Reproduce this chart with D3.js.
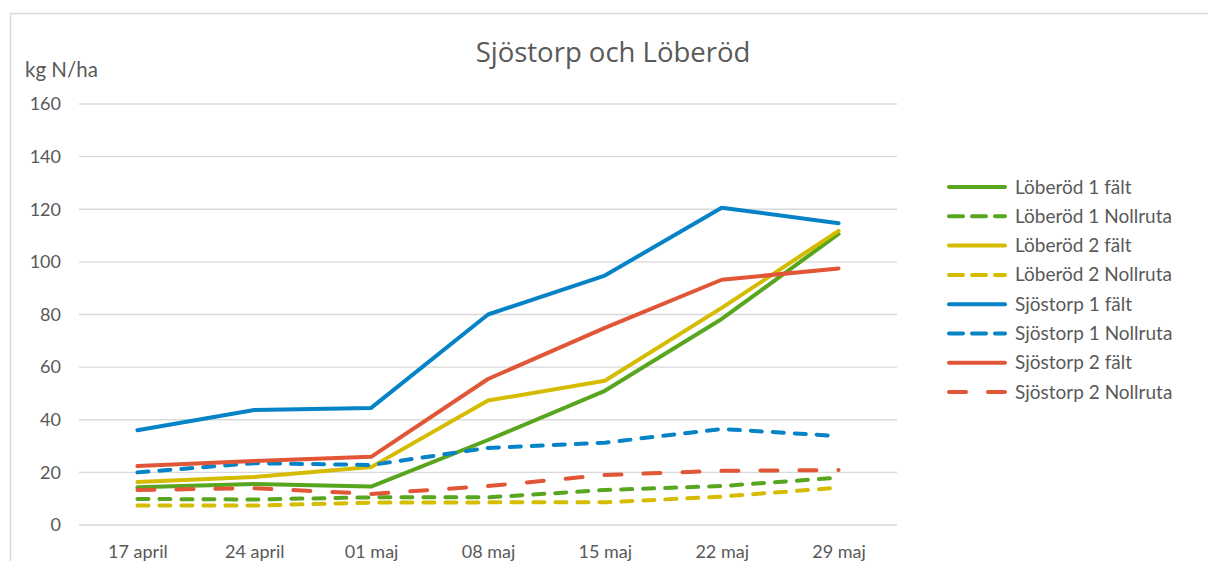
<!DOCTYPE html>
<html>
<head>
<meta charset="utf-8">
<script src="https://cdn.jsdelivr.net/npm/d3@7"></script>
<style>
  body { margin: 0; background: #fff; }
  svg text { fill: #595959; }
</style>
</head>
<body>
<svg id="chart" width="1208" height="561"></svg>
<script>
// dates on the x axis
const categories = ["17 april", "24 april", "01 maj", "08 maj", "15 maj", "22 maj", "29 maj"];
const yTicks = [0, 20, 40, 60, 80, 100, 120, 140, 160];

const seriesNames = [
  "Löberöd 1 fält", "Löberöd 1 Nollruta", "Löberöd 2 fält", "Löberöd 2 Nollruta",
  "Sjöstorp 1 fält", "Sjöstorp 1 Nollruta", "Sjöstorp 2 fält", "Sjöstorp 2 Nollruta"
];
const loberod1Falt = [14.3, 15.6, 14.6, 32.3, 51, 78.3, 110.6];
const loberod1Noll = [9.9, 9.7, 10.5, 10.5, 13.3, 14.8, 18];
const loberod2Falt = [16.3, 18.2, 22, 47.3, 54.8, 82.5, 111.8];
const loberod2Noll = [7.4, 7.4, 8.5, 8.6, 8.6, 10.8, 14.2];
const sjostorp1Falt = [36, 43.7, 44.5, 80, 94.8, 120.6, 114.7];
const sjostorp1Noll = [20, 23.5, 22.8, 29.3, 31.3, 36.5, 33.8];
const sjostorp2Falt = [22.4, 24.3, 25.9, 55.5, 74.9, 93.2, 97.5];
const sjostorp2Noll = [13.3, 14, 11.8, 14.8, 19, 20.6, 20.9];

const seriesValues = [loberod1Falt, loberod1Noll, loberod2Falt, loberod2Noll,
  sjostorp1Falt, sjostorp1Noll, sjostorp2Falt, sjostorp2Noll];

const green = "#58a51f", yellow = "#d5bc00", blue = "#0583c6", red = "#e05636";
const colors = [green, green, yellow, yellow, blue, blue, red, red];
const dashes = [null, "11,11", null, "11,11", null, "11,11", null, "17,22"];

const svg = d3.select("#chart");
const font = "Lato, 'Open Sans', sans-serif";

// chart frame (right and bottom fall outside the picture)
svg.append("path")
  .attr("d", "M10.5,561 L10.5,13.5 L1208,13.5")
  .attr("fill", "none")
  .attr("stroke", "#d9d9d9")
  .attr("stroke-width", 1.5);

const plot = { left: 79, right: 897, top: 104, bottom: 525 };

const x = d3.scalePoint().domain(categories).range([plot.left, plot.right]).padding(0.5);
const y = d3.scaleLinear().domain([0, 160]).range([plot.bottom, plot.top]);

// gridlines
svg.append("g")
  .selectAll("line")
  .data(yTicks)
  .join("line")
  .attr("x1", plot.left)
  .attr("x2", plot.right)
  .attr("y1", (d) => y(d))
  .attr("y2", (d) => y(d))
  .attr("stroke", "#d9d9d9")
  .attr("stroke-width", 1.3);

// y axis labels
const yAxis = svg.append("g")
  .attr("transform", `translate(${plot.left - 4},0)`)
  .call(d3.axisLeft(y).tickValues(yTicks).tickSize(0).tickPadding(14));
yAxis.select(".domain").remove();
yAxis.selectAll("text").attr("font-family", font).attr("font-size", 18).style("fill", "#595959");

// x axis labels
const xAxis = svg.append("g")
  .attr("transform", `translate(0,${plot.bottom})`)
  .call(d3.axisBottom(x).tickSize(0).tickPadding(20));
xAxis.select(".domain").remove();
xAxis.selectAll("text").attr("font-family", font).attr("font-size", 18).style("fill", "#595959");

// lines
const line = d3.line()
  .x((d, i) => x(categories[i]))
  .y((d) => y(d));

svg.append("g")
  .selectAll("path")
  .data(seriesValues)
  .join("path")
  .attr("d", (d) => line(d))
  .attr("fill", "none")
  .attr("stroke", (d, i) => colors[i])
  .attr("stroke-width", 4)
  .attr("stroke-linecap", "round")
  .attr("stroke-linejoin", "round")
  .attr("stroke-dasharray", (d, i) => dashes[i]);

// title and unit label
svg.append("text")
  .attr("x", 613)
  .attr("y", 62)
  .attr("text-anchor", "middle")
  .attr("font-family", "'Open Sans', 'Noto Sans', sans-serif")
  .attr("font-size", 27.5)
  .text("Sjöstorp och Löberöd");

svg.append("text")
  .attr("x", 25)
  .attr("y", 77)
  .attr("font-family", font)
  .attr("font-size", 20.5)
  .text("kg N/ha");

// legend
const legend = svg.append("g").attr("transform", "translate(949,187)");
const rows = legend.selectAll("g")
  .data(seriesNames)
  .join("g")
  .attr("transform", (d, i) => `translate(0,${i * 29.3})`);

rows.append("line")
  .attr("x1", 0)
  .attr("x2", 56)
  .attr("stroke", (d, i) => colors[i])
  .attr("stroke-width", 4)
  .attr("stroke-linecap", "round")
  .attr("stroke-dasharray", (d, i) => (dashes[i] ? (i === 7 ? "17,22" : "14,9") : null));

rows.append("text")
  .attr("x", 66)
  .attr("y", 6.5)
  .attr("font-family", font)
  .attr("font-size", 19)
  .text((d) => d);
</script>
</body>
</html>
